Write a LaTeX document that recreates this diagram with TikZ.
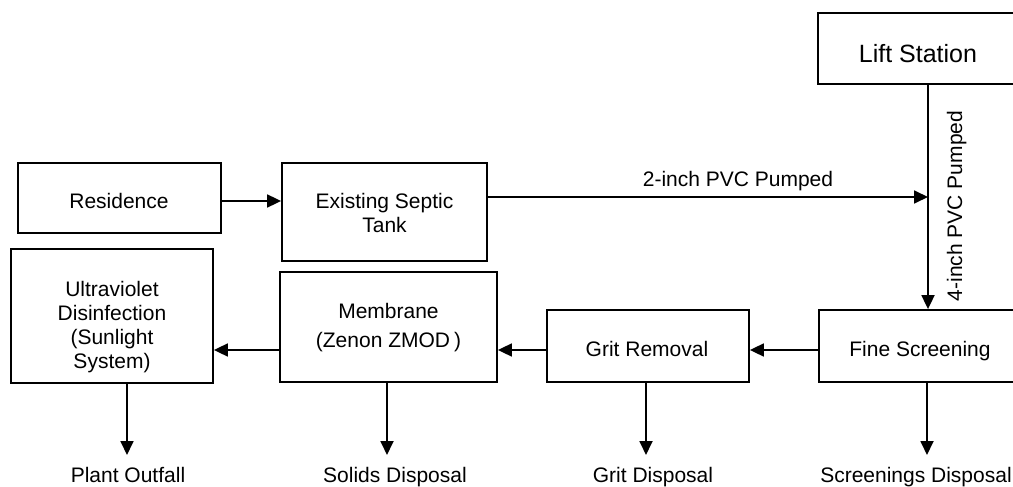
\documentclass[tikz,border=0pt]{standalone}
\usepackage{fontspec}
\setmainfont{Liberation Sans}
\usetikzlibrary{arrows.meta}
\begin{document}
\begin{tikzpicture}[x=1pt,y=-1pt,
  box/.style={draw, line width=1.8pt, inner sep=0pt},
  txt/.style={font=\fontsize{21}{24}\selectfont, inner sep=0pt, align=center, anchor=base},
  arr/.style={line width=1.8pt, -{Triangle[length=14pt,width=13pt]}},
  ]
\useasboundingbox (0,0) rectangle (1013,487);

% boxes
\node[box, minimum width=200pt, minimum height=71pt] (lift) at (918,48.5) {};
\node[box, minimum width=203pt, minimum height=70pt] (res) at (119.5,198) {};
\node[box, minimum width=205pt, minimum height=98pt] (sep) at (384.5,212) {};
\node[box, minimum width=202pt, minimum height=134pt] (uv) at (112,316) {};
\node[box, minimum width=217pt, minimum height=110pt] (mem) at (388.5,327) {};
\node[box, minimum width=202pt, minimum height=72pt] (grit) at (648,346) {};
\node[box, minimum width=200pt, minimum height=72pt] (fine) at (919,346) {};

% texts in boxes (base anchor = baseline of the last line)
\node[txt, font=\fontsize{25}{28}\selectfont] (tlift) at (918,63) {Lift Station};
\node[txt] (tres) at (119,208) {Residence};
\node[txt, font=\fontsize{21}{23.5}\selectfont] (tsep) at (384.5,232) {Existing Septic\\Tank};
\node[txt, font=\fontsize{21}{24}\selectfont] (tuv) at (112,368) {Ultraviolet\\Disinfection\\(Sunlight\\System)};
\node[txt, font=\fontsize{21}{29}\selectfont] (tmem) at (388.5,347) {Membrane\\(Zenon ZMOD\hspace{4pt})};
\node[txt] (tgrit) at (647,356) {Grit Removal};
\node[txt] (tfine) at (920,356) {Fine Screening};

% pipe connections
\coordinate (pipe) at (928,197);
\coordinate (r) at (0,201);
\coordinate (h) at (0,350);
\draw[arr] (res.east |- r) -- (sep.west |- r);
\draw[arr] (sep.east |- pipe) -- (pipe);
\draw[arr] (lift.south -| pipe) -- (fine.north -| pipe);
\node[txt] (t2) at (738,186) {2-inch PVC Pumped};
\node[txt, rotate=90] (t4) at (962,206) {4-inch PVC Pumped};

\draw[arr] (fine.west |- h) -- (grit.east |- h);
\draw[arr] (grit.west |- h) -- (mem.east |- h);
\draw[arr] (mem.west |- h) -- (uv.east |- h);

% outputs
\coordinate (o1) at (127,455);
\coordinate (o2) at (387,455);
\coordinate (o3) at (646,455);
\coordinate (o4) at (927,455);
\draw[arr] (uv.south -| o1) -- (o1);
\draw[arr] (mem.south -| o2) -- (o2);
\draw[arr] (grit.south -| o3) -- (o3);
\draw[arr] (fine.south -| o4) -- (o4);
\node[txt] (l1) at (128,482) {Plant Outfall};
\node[txt] (l2) at (395,482) {Solids Disposal};
\node[txt] (l3) at (653,482) {Grit Disposal};
\node[txt] (l4) at (916,482) {Screenings Disposal};
\end{tikzpicture}
\end{document}
